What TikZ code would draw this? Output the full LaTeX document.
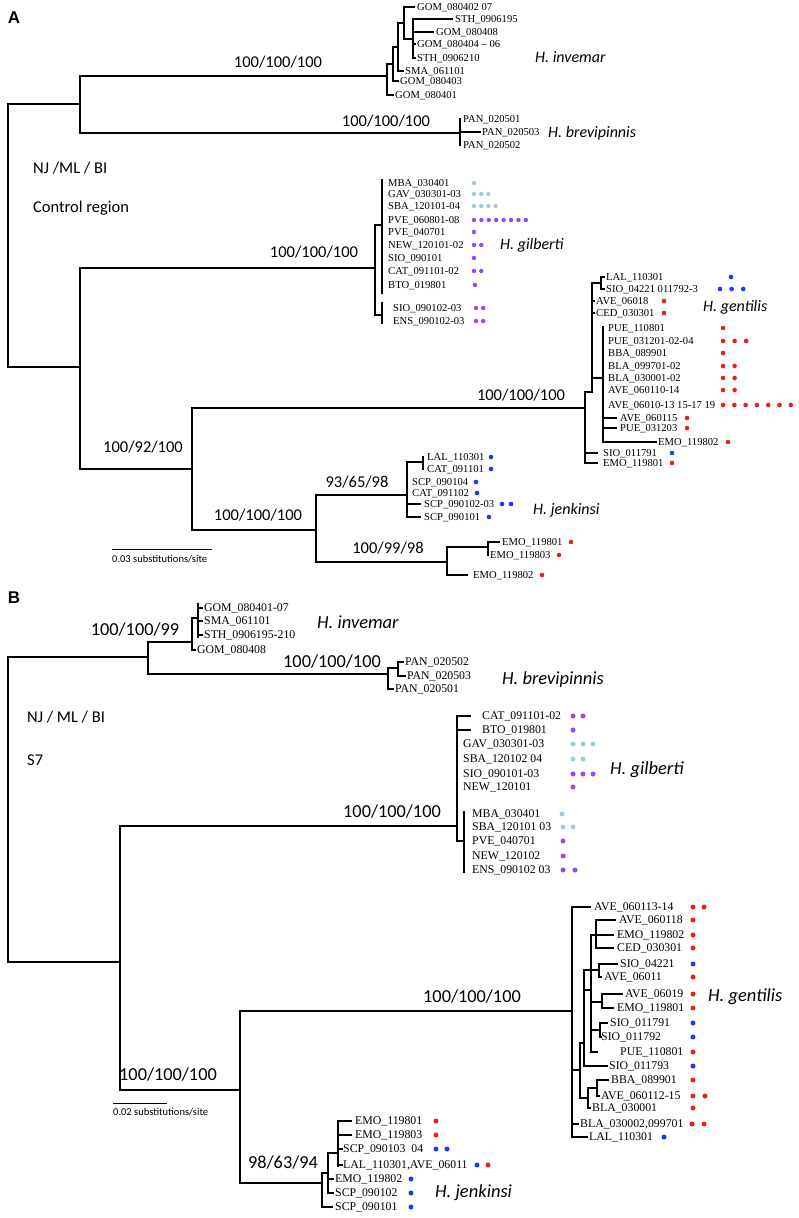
\documentclass[tikz,border=0pt]{standalone}
\usepackage{fontspec}
\setmainfont{Liberation Serif}
\newfontfamily\calfont{Carlito}
\newfontfamily\arialfont{Liberation Sans}
\definecolor{dred}{RGB}{228,34,28}
\definecolor{dblue}{RGB}{28,58,245}
\definecolor{dpurple}{RGB}{150,72,240}
\definecolor{dlblue}{RGB}{160,204,220}
\newcommand{\fLA}{\fontsize{10.6}{12}\selectfont}
\newcommand{\fLB}{\fontsize{11.8}{13}\selectfont}
\newcommand{\fSA}{\calfont\fontsize{16.5}{18}\selectfont}
\newcommand{\fSB}{\calfont\fontsize{18.3}{20}\selectfont}
\newcommand{\fIA}{\calfont\itshape\fontsize{16}{18}\selectfont}
\newcommand{\fIB}{\calfont\itshape\fontsize{18.5}{20}\selectfont}
\newcommand{\fBar}{\calfont\fontsize{10.5}{12}\selectfont}
\newcommand{\LA}[4]{\node[leafA] (#1) at (#2,#3) {#4};}
\newcommand{\LB}[4]{\node[leafB] (#1) at (#2,#3) {#4};}
\newcommand{\dotrow}[6]{\foreach \k in {1,...,#4}{\fill[#1] ({#2+(\k-1)*#5},#3) circle[radius=#6pt];}}
\tikzset{
  tree/.style={line width=1.1pt, line cap=rect, line join=miter},
  leafA/.style={anchor=west, inner sep=0pt, font=\fLA, text height=8pt, text depth=1pt},
  leafB/.style={anchor=west, inner sep=0pt, font=\fLB, text height=8.8pt, text depth=1pt},
  supA/.style={inner sep=0pt, font=\fSA},
  supB/.style={inner sep=0pt, font=\fSB},
  spA/.style={anchor=west, inner sep=0pt, font=\fIA},
  spB/.style={anchor=west, inner sep=0pt, font=\fIB},
  panel/.style={inner sep=0pt, font=\arialfont\bfseries\fontsize{17}{19}\selectfont},
  note/.style={anchor=west, inner sep=0pt, font=\fSA},
  barlab/.style={anchor=west, inner sep=0pt, font=\fBar}
}
\begin{document}
\begin{tikzpicture}[x=1pt,y=-1pt]
\useasboundingbox (0,0) rectangle (799,1218);
\fill[white] (0,0) rectangle (799,1218);
% ================= PANEL A =================
\node[panel] (pA) at (14,18) {A};
\draw[tree] (8,104)--(8,367);
\draw[tree] (8,104)--(80,104);
\draw[tree] (8,367)--(80,367);
\draw[tree] (80,76)--(80,133);
\draw[tree] (80,76)--(387,76);
\draw[tree] (80,133)--(460,133);
\draw[tree] (80,268)--(80,469);
\draw[tree] (80,268)--(375,268);
\draw[tree] (80,469)--(192,469);
\draw[tree] (192,408)--(192,530);
\draw[tree] (192,408)--(585,408);
\draw[tree] (192,530)--(316,530);
\node[supA] (sA1) at (278,62) {100/100/100};
\node[supA] (sA2) at (386,121) {100/100/100};
\node[note] (njA) at (33,168) {NJ /ML / BI};
\node[note] (crA) at (33,208) {Control region};
\node[supA] (sA3) at (314,252) {100/100/100};
\node[supA] (sA4) at (143,447) {100/92/100};
\node[supA] (sA5) at (521,395) {100/100/100};
\node[supA] (sA6) at (357,482) {93/65/98};
\node[supA] (sA7) at (258,515) {100/100/100};
\node[supA] (sA8) at (388,548) {100/99/98};
% invemar A
\draw[tree] (387,64)--(387,95);
\draw[tree] (387,95)--(393,95);
\draw[tree] (387,64)--(393,64);
\draw[tree] (393,47)--(393,81);
\draw[tree] (393,81)--(398,81);
\draw[tree] (393,47)--(398,47);
\draw[tree] (398,23)--(398,71);
\draw[tree] (398,71)--(403,71);
\draw[tree] (398,23)--(404,23);
\draw[tree] (404,7)--(404,39);
\draw[tree] (404,7)--(414,7);
\draw[tree] (404,39)--(413,39);
\draw[tree] (413,19)--(413,58);
\draw[tree] (413,19)--(452,19);
\draw[tree] (413,32)--(433,32);
\draw[tree] (413,44)--(415,44);
\draw[tree] (413,58)--(415,58);
\LA{i1}{417}{7}{GOM\_080402 07}
\LA{i2}{455}{19}{STH\_0906195}
\LA{i3}{436}{32}{GOM\_080408}
\LA{i4}{417}{44}{GOM\_080404 -- 06}
\LA{i5}{417}{58}{STH\_0906210}
\LA{i6}{405}{71}{SMA\_061101}
\LA{i7}{400}{81}{GOM\_080403}
\LA{i8}{395}{95}{GOM\_080401}
\node[spA] (hiA) at (535,57) {H. invemar};
% brevipinnis A
\draw[tree] (460,119)--(460,145);
\draw[tree] (460,132)--(480,132);
\LA{b1}{463}{119}{PAN\_020501}
\LA{b2}{482}{132}{PAN\_020503}
\LA{b3}{463}{145}{PAN\_020502}
\node[spA] (hbA) at (548,133) {H. brevipinnis};
% gilberti A
\draw[tree] (375,225)--(375,315);
\draw[tree] (375,225)--(382,225);
\draw[tree] (382,180)--(382,293);
\draw[tree] (375,315)--(382,315);
\draw[tree] (382,303)--(382,323);
\LA{g1}{388}{183}{MBA\_030401}
\LA{g2}{388}{194}{GAV\_030301-03}
\LA{g3}{388}{206}{SBA\_120101-04}
\LA{g4}{388}{220}{PVE\_060801-08}
\LA{g5}{388}{232}{PVE\_040701}
\LA{g6}{388}{245}{NEW\_120101-02}
\LA{g7}{388}{258}{SIO\_090101}
\LA{g8}{388}{271}{CAT\_091101-02}
\LA{g9}{388}{285}{BTO\_019801}
\LA{g10}{393}{308}{SIO\_090102-03}
\LA{g11}{393}{321}{ENS\_090102-03}
\dotrow{dlblue}{474}{183}{1}{7.2}{2.2}
\dotrow{dlblue}{474}{194}{3}{7.2}{2.2}
\dotrow{dlblue}{474}{206}{4}{7.2}{2.2}
\dotrow{dpurple}{474}{220}{8}{7.4}{2.2}
\dotrow{dpurple}{474}{232}{1}{7.2}{2.2}
\dotrow{dpurple}{474}{245}{2}{7.2}{2.2}
\dotrow{dpurple}{474}{258}{1}{7.2}{2.2}
\dotrow{dpurple}{474}{271}{2}{7.2}{2.2}
\dotrow{dpurple}{475}{285}{1}{7.2}{2.2}
\dotrow{dpurple}{476}{308}{2}{7.2}{2.2}
\dotrow{dpurple}{476}{321}{2}{7.2}{2.2}
\node[spA] (hgA) at (500,245) {H. gilberti};
% gentilis A
\draw[tree] (585,392)--(585,463);
\draw[tree] (585,453)--(597,453);
\draw[tree] (585,463)--(597,463);
\draw[tree] (585,392)--(592,392);
\draw[tree] (592,283)--(592,392);
\draw[tree] (592,283)--(601,283);
\draw[tree] (601,277)--(601,289);
\draw[tree] (601,277)--(604,277);
\draw[tree] (601,289)--(604,289);
\draw[tree] (592,301)--(594,301);
\draw[tree] (592,313)--(594,313);
\draw[tree] (592,378)--(603,378);
\draw[tree] (603,327)--(603,442);
\draw[tree] (603,418)--(616,418);
\draw[tree] (603,428)--(616,428);
\draw[tree] (603,442)--(656,442);
\LA{t1}{606}{277}{LAL\_110301}
\LA{t2}{606}{289}{SIO\_04221 011792-3}
\LA{t3}{596}{301}{AVE\_06018}
\LA{t4}{596}{313}{CED\_030301}
\LA{t5}{608}{328}{PUE\_110801}
\LA{t6}{608}{341}{PUE\_031201-02-04}
\LA{t7}{608}{353}{BBA\_089901}
\LA{t8}{608}{366}{BLA\_099701-02}
\LA{t9}{608}{378}{BLA\_030001-02}
\LA{t10}{608}{390}{AVE\_060110-14}
\LA{t11}{608}{405}{AVE\_06010-13 15-17 19}
\LA{t12}{620}{418}{AVE\_060115}
\LA{t13}{620}{428}{PUE\_031203}
\LA{t14}{658}{442}{EMO\_119802}
\LA{t15}{603}{453}{SIO\_011791}
\LA{t16}{603}{463}{EMO\_119801}
\dotrow{dblue}{731}{277}{1}{11.6}{2.3}
\dotrow{dblue}{720}{289}{3}{11.6}{2.3}
\dotrow{dred}{664}{301}{1}{11.6}{2.3}
\dotrow{dred}{664}{313}{1}{11.6}{2.3}
\dotrow{dred}{723}{328}{1}{11.6}{2.3}
\dotrow{dred}{723}{341}{3}{11.6}{2.3}
\dotrow{dred}{723}{353}{1}{11.6}{2.3}
\dotrow{dred}{723}{366}{2}{11.6}{2.3}
\dotrow{dred}{723}{378}{2}{11.6}{2.3}
\dotrow{dred}{723}{390}{2}{11.6}{2.3}
\dotrow{dred}{723}{405}{7}{11.3}{2.3}
\dotrow{dred}{687}{418}{1}{11.6}{2.3}
\dotrow{dred}{687}{428}{1}{11.6}{2.3}
\dotrow{dred}{728}{442}{1}{11.6}{2.3}
\dotrow{dblue}{672}{453}{1}{11.6}{2.3}
\dotrow{dred}{672}{463}{1}{11.6}{2.3}
\node[spA] (hgeA) at (703,307) {H. gentilis};
% jenkinsi A
\draw[tree] (316,495)--(316,562);
\draw[tree] (316,495)--(407,495);
\draw[tree] (316,562)--(447,562);
\draw[tree] (407,462)--(407,517);
\draw[tree] (407,462)--(423,462);
\draw[tree] (423,457)--(423,469);
\draw[tree] (407,504)--(420,504);
\draw[tree] (407,517)--(420,517);
\draw[tree] (447,547)--(447,575);
\draw[tree] (447,547)--(488,547);
\draw[tree] (488,542)--(488,555);
\draw[tree] (488,542)--(499,542);
\draw[tree] (447,575)--(467,575);
\LA{j1}{427}{457}{LAL\_110301}
\LA{j2}{427}{469}{CAT\_091101}
\LA{j3}{412}{482}{SCP\_090104}
\LA{j4}{412}{493}{CAT\_091102}
\LA{j5}{424}{504}{SCP\_090102-03}
\LA{j6}{424}{517}{SCP\_090101}
\LA{j7}{502}{542}{EMO\_119801}
\LA{j8}{490}{555}{EMO\_119803}
\LA{j9}{473}{575}{EMO\_119802}
\dotrow{dblue}{491}{457}{1}{9}{2.3}
\dotrow{dblue}{491}{469}{1}{9}{2.3}
\dotrow{dblue}{476}{482}{1}{9}{2.3}
\dotrow{dblue}{477}{493}{1}{9}{2.3}
\dotrow{dblue}{502}{504}{2}{9}{2.3}
\dotrow{dblue}{489}{517}{1}{9}{2.3}
\dotrow{dred}{571}{542}{1}{9}{2.3}
\dotrow{dred}{559}{555}{1}{9}{2.3}
\dotrow{dred}{542}{575}{1}{9}{2.3}
\node[spA] (hjA) at (533,510) {H. jenkinsi};
% scale bar A
\draw[line width=1pt] (112,549)--(212,549);
\node[barlab] (barA) at (112,559) {0.03 substitutions/site};
% ================= PANEL B =================
\node[panel] (pB) at (14,598) {B};
\draw[tree] (8,657)--(8,962);
\draw[tree] (8,657)--(148,657);
\draw[tree] (8,962)--(120,962);
\draw[tree] (148,642)--(148,674);
\draw[tree] (148,642)--(192,642);
\draw[tree] (148,674)--(388,674);
\node[supB] (sB1) at (135,630) {100/100/99};
\node[supB] (sB2) at (332,662) {100/100/100};
% invemar B
\draw[tree] (192,618)--(192,650);
\draw[tree] (192,618)--(198,618);
\draw[tree] (198,604)--(198,637);
\draw[tree] (198,608)--(202,608);
\draw[tree] (198,621)--(202,621);
\draw[tree] (198,635)--(202,635);
\draw[tree] (192,650)--(195,650);
\LB{ib1}{204}{608}{GOM\_080401-07}
\LB{ib2}{204}{621}{SMA\_061101}
\LB{ib3}{204}{635}{STH\_0906195-210}
\LB{ib4}{197}{650}{GOM\_080408}
\node[spB] (hiB) at (317,622) {H. invemar};
% brevipinnis B
\draw[tree] (388,668)--(388,689);
\draw[tree] (388,668)--(398,668);
\draw[tree] (398,662)--(398,676);
\draw[tree] (398,662)--(403,662);
\draw[tree] (398,676)--(405,676);
\draw[tree] (388,689)--(393,689);
\LB{bb1}{405}{662}{PAN\_020502}
\LB{bb2}{407}{676}{PAN\_020503}
\LB{bb3}{395}{689}{PAN\_020501}
\node[spB] (hbB) at (502,680) {H. brevipinnis};
\node[note] (njB) at (27,717) {NJ / ML / BI};
\node[note] (s7B) at (27,760) {S7};
% gilberti B
\draw[tree] (120,826)--(120,1090);
\draw[tree] (120,826)--(457,826);
\node[supB] (sB3) at (392,812) {100/100/100};
\draw[tree] (457,716)--(457,841);
\draw[tree] (457,716)--(470,716);
\draw[tree] (457,730)--(470,730);
\draw[tree] (457,841)--(464,841);
\draw[tree] (464,812)--(464,872);
\LB{gb1}{482}{716}{CAT\_091101-02}
\LB{gb2}{482}{730}{BTO\_019801}
\LB{gb3}{463}{744}{GAV\_030301-03}
\LB{gb4}{463}{759}{SBA\_120102 04}
\LB{gb5}{463}{774}{SIO\_090101-03}
\LB{gb6}{463}{787}{NEW\_120101}
\LB{gb7}{472}{814}{MBA\_030401}
\LB{gb8}{472}{827}{SBA\_120101 03}
\LB{gb9}{472}{841}{PVE\_040701}
\LB{gb10}{472}{856}{NEW\_120102}
\LB{gb11}{472}{870}{ENS\_090102 03}
\dotrow{dpurple}{573}{716}{2}{10}{2.5}
\dotrow{dpurple}{573}{730}{1}{10}{2.5}
\dotrow{dlblue}{573}{744}{3}{10}{2.5}
\dotrow{dlblue}{573}{759}{2}{10}{2.5}
\dotrow{dpurple}{573}{774}{3}{10}{2.5}
\dotrow{dpurple}{573}{787}{1}{10}{2.5}
\dotrow{dlblue}{562}{814}{1}{10}{2.5}
\dotrow{dlblue}{563}{827}{2}{10}{2.5}
\dotrow{dpurple}{563}{841}{1}{10}{2.5}
\dotrow{dpurple}{563}{856}{1}{10}{2.5}
\dotrow{dpurple}{563}{870}{2}{12}{2.5}
\node[spB] (hgB) at (610,770) {H. gilberti};
% gentilis + jenkinsi B
\draw[tree] (120,1090)--(240,1090);
\node[supB] (sB4) at (168,1075) {100/100/100};
\draw[tree] (240,1011)--(240,1183);
\draw[tree] (240,1011)--(572,1011);
\node[supB] (sB5) at (472,997) {100/100/100};
\draw[tree] (240,1183)--(322,1183);
\node[supB] (sB6) at (283,1163) {98/63/94};
% gentilis B
\draw[tree] (572,907)--(572,1137);
\draw[tree] (572,907)--(590,907);
\draw[tree] (572,1070)--(580,1070);
\draw[tree] (580,1043)--(580,1098);
\draw[tree] (580,1043)--(584,1043);
\draw[tree] (584,970)--(584,1066);
\draw[tree] (584,970)--(599,970);
\draw[tree] (599,964)--(599,977);
\draw[tree] (599,964)--(617,964);
\draw[tree] (599,977)--(601,977);
\draw[tree] (584,990)--(591,990);
\draw[tree] (591,935)--(591,1052);
\draw[tree] (591,935)--(596,935);
\draw[tree] (596,920)--(596,948);
\draw[tree] (596,920)--(615,920);
\draw[tree] (596,935)--(613,935);
\draw[tree] (596,948)--(613,948);
\draw[tree] (591,1002)--(602,1002);
\draw[tree] (602,994)--(602,1008);
\draw[tree] (602,994)--(622,994);
\draw[tree] (602,1008)--(613,1008);
\draw[tree] (591,1030)--(600,1030);
\draw[tree] (600,1023)--(600,1037);
\draw[tree] (600,1023)--(607,1023);
\draw[tree] (600,1037)--(601,1037);
\draw[tree] (591,1052)--(597,1052);
\draw[tree] (584,1066)--(607,1066);
\draw[tree] (580,1098)--(588,1098);
\draw[tree] (588,1088)--(588,1108);
\draw[tree] (588,1088)--(597,1088);
\draw[tree] (597,1080)--(597,1096);
\draw[tree] (597,1080)--(608,1080);
\draw[tree] (597,1096)--(599,1096);
\draw[tree] (588,1108)--(590,1108);
\draw[tree] (572,1124)--(578,1124);
\draw[tree] (572,1137)--(587,1137);
\LB{tb1}{594}{907}{AVE\_060113-14}
\LB{tb2}{619}{920}{AVE\_060118}
\LB{tb3}{617}{935}{EMO\_119802}
\LB{tb4}{617}{948}{CED\_030301}
\LB{tb5}{620}{964}{SIO\_04221}
\LB{tb6}{604}{977}{AVE\_06011}
\LB{tb7}{625}{994}{AVE\_06019}
\LB{tb8}{617}{1008}{EMO\_119801}
\LB{tb9}{610}{1023}{SIO\_011791}
\LB{tb10}{601}{1037}{SIO\_011792}
\LB{tb11}{620}{1052}{PUE\_110801}
\LB{tb12}{609}{1066}{SIO\_011793}
\LB{tb13}{611}{1080}{BBA\_089901}
\LB{tb14}{601}{1096}{AVE\_060112-15}
\LB{tb15}{592}{1108}{BLA\_030001}
\LB{tb16}{580}{1124}{BLA\_030002,099701}
\LB{tb17}{589}{1137}{LAL\_110301}
\dotrow{dred}{693}{907}{2}{11}{2.5}
\dotrow{dred}{693}{920}{1}{11}{2.5}
\dotrow{dred}{693}{935}{1}{11}{2.5}
\dotrow{dred}{693}{948}{1}{11}{2.5}
\dotrow{dblue}{693}{964}{1}{11}{2.5}
\dotrow{dred}{693}{977}{1}{11}{2.5}
\dotrow{dred}{693}{994}{1}{11}{2.5}
\dotrow{dred}{693}{1008}{1}{11}{2.5}
\dotrow{dblue}{693}{1023}{1}{11}{2.5}
\dotrow{dblue}{693}{1037}{1}{11}{2.5}
\dotrow{dred}{693}{1052}{1}{11}{2.5}
\dotrow{dblue}{693}{1066}{1}{11}{2.5}
\dotrow{dred}{693}{1080}{1}{11}{2.5}
\dotrow{dred}{693}{1096}{2}{12}{2.5}
\dotrow{dred}{693}{1108}{1}{11}{2.5}
\dotrow{dred}{692}{1124}{2}{12}{2.5}
\dotrow{dblue}{664}{1137}{1}{11}{2.5}
\node[spB] (hgeB) at (708,997) {H. gentilis};
% jenkinsi B
\draw[tree] (322,1173)--(322,1207);
\draw[tree] (322,1173)--(328,1173);
\draw[tree] (328,1153)--(328,1193);
\draw[tree] (328,1153)--(338,1153);
\draw[tree] (338,1121)--(338,1166);
\draw[tree] (338,1121)--(351,1121);
\draw[tree] (338,1135)--(351,1135);
\draw[tree] (338,1149)--(342,1149);
\draw[tree] (338,1165)--(342,1165);
\draw[tree] (328,1179)--(333,1179);
\draw[tree] (328,1193)--(333,1193);
\draw[tree] (322,1207)--(332,1207);
\LB{jb1}{355}{1121}{EMO\_119801}
\LB{jb2}{355}{1135}{EMO\_119803}
\LB{jb3}{343}{1149}{SCP\_090103\ \ 04}
\LB{jb4}{343}{1165}{LAL\_110301,AVE\_06011}
\LB{jb5}{335}{1179}{EMO\_119802}
\LB{jb6}{335}{1193}{SCP\_090102}
\LB{jb7}{335}{1207}{SCP\_090101}
\dotrow{dred}{436}{1121}{1}{11}{2.5}
\dotrow{dred}{436}{1135}{1}{11}{2.5}
\dotrow{dblue}{436}{1149}{2}{11}{2.5}
\dotrow{dblue}{477}{1165}{1}{11}{2.5}
\dotrow{dred}{488}{1165}{1}{11}{2.5}
\dotrow{dblue}{411}{1179}{1}{11}{2.5}
\dotrow{dblue}{411}{1193}{1}{11}{2.5}
\dotrow{dblue}{411}{1207}{1}{11}{2.5}
\node[spB] (hjB) at (435,1193) {H. jenkinsi};
% scale bar B
\draw[line width=1pt] (113,1103)--(167,1103);
\node[barlab] (barB) at (113,1112) {0.02 substitutions/site};
\end{tikzpicture}
\end{document}
